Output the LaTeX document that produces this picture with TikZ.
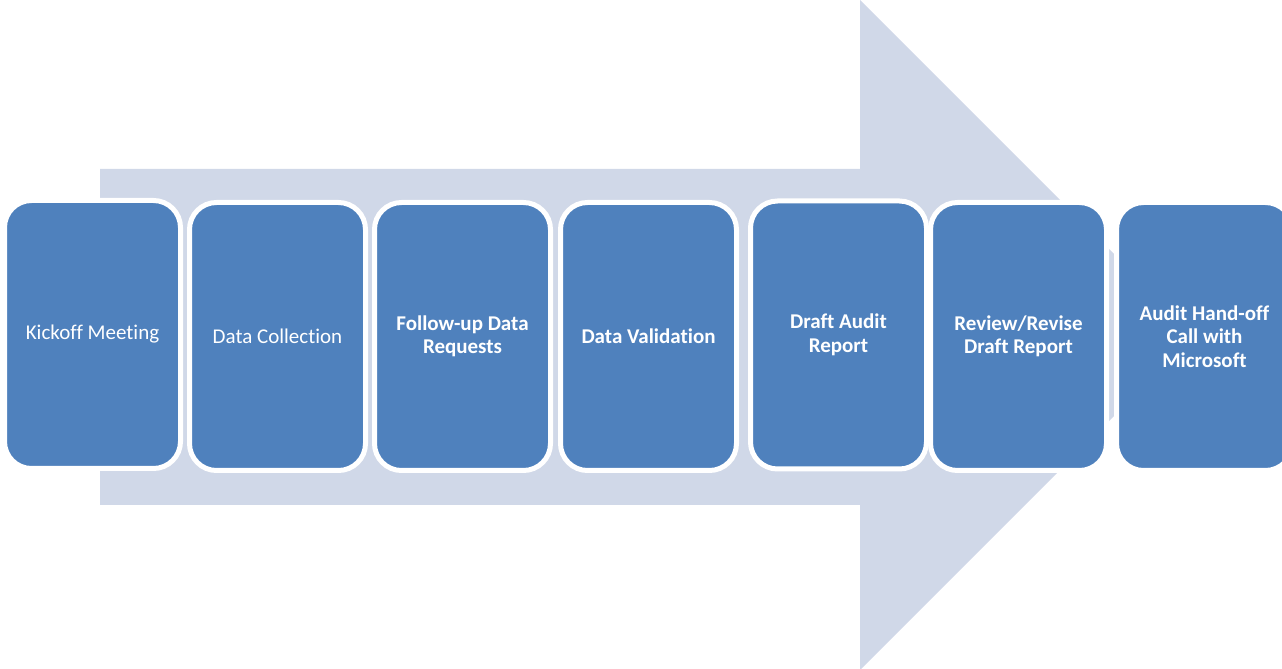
\documentclass[tikz,border=0pt]{standalone}
\usepackage{fontspec}
\setmainfont[Ligatures=NoCommon]{Carlito}
\definecolor{stepblue}{HTML}{4F81BD}
\definecolor{arrowtint}{HTML}{D0D8E8}
\begin{document}
\begin{tikzpicture}[x=1pt,y=1pt,
  stepbox/.style={draw=white, line width=5pt, fill=stepblue, rounded corners=27pt,
    minimum width=176pt, minimum height=268pt, inner sep=0pt, align=center,
    text=white, font=\fontsize{21}{23.5}\selectfont},
  boldstep/.style={stepbox, font=\fontsize{21}{23.5}\selectfont\bfseries}]
\clip (0,0) rectangle (1282,669);
% background arrow
\fill[arrowtint] (100,500) -- (860,500) -- (860,669) -- (1195,334) -- (860,-1)
  -- (860,164) -- (100,164) -- cycle;
% process steps
\node[stepbox]  (s1) at (92.5,334.5) {Kickoff Meeting};
\node[stepbox]  (s2) at (277.5,332.5) {Data Collection};
\node[boldstep] (s3) at (462.5,332.5) {Follow-up Data\\Requests};
\node[boldstep] (s4) at (648.5,332.5) {Data Validation};
\node[boldstep] (s5) at (838.5,334) {Draft Audit\\Report};
\node[boldstep] (s6) at (1018.5,332.5) {Review/Revise\\Draft Report};
\node[boldstep] (s7) at (1204.5,332.5) {Audit Hand-off\\Call with\\Microsoft};
\end{tikzpicture}
\end{document}
